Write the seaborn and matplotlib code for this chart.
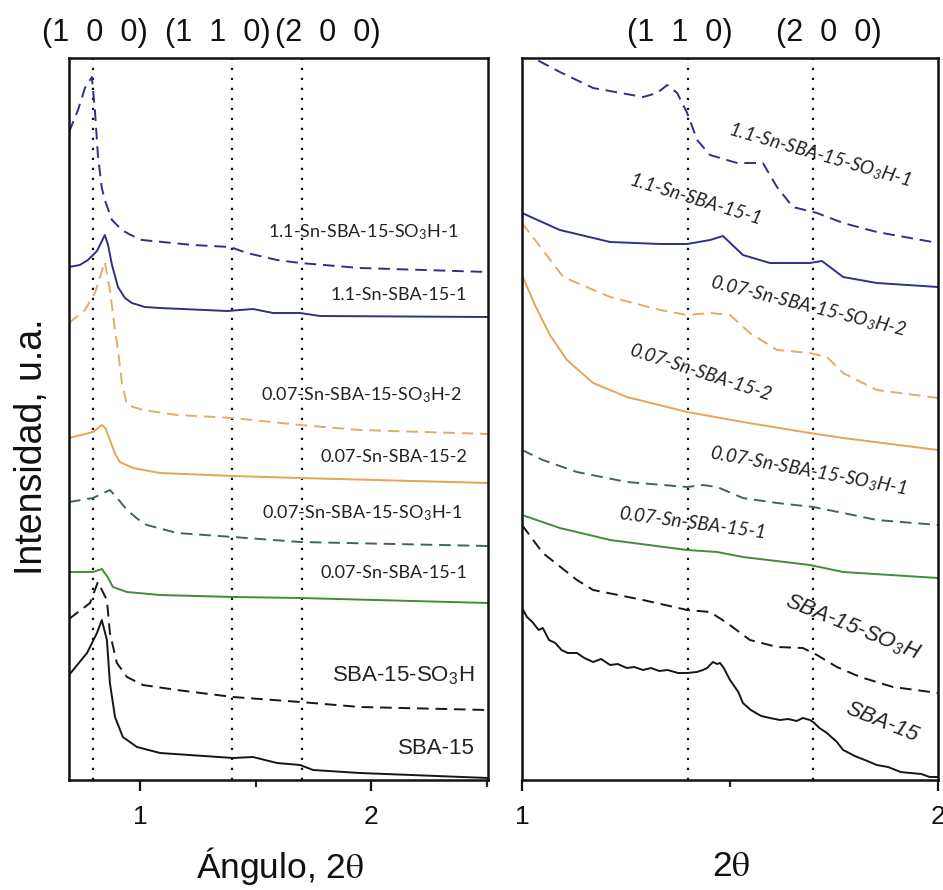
import matplotlib
matplotlib.use("Agg")
import matplotlib.pyplot as plt
import seaborn as sns
import pandas as pd
import numpy as np

# ---------------- data (2theta, intensity a.u.) ----------------
# Left panel
L_sn11_so3h_x = [0.693, 0.732, 0.762, 0.792, 0.805, 0.818, 0.835, 0.848, 0.879, 0.922, 0.960, 1.009, 1.229, 1.390, 1.463, 1.593, 1.693, 1.952, 2.506]
L_sn11_so3h_y = [648, 670, 692, 703, 670, 625, 592, 580, 560, 550, 545, 540, 535, 533, 527, 520, 517, 512, 508]
L_sn11_x = [0.693, 0.740, 0.775, 0.814, 0.827, 0.848, 0.862, 0.879, 0.905, 0.935, 0.965, 1.022, 1.087, 1.377, 1.489, 1.576, 1.693, 1.779, 2.506]
L_sn11_y = [513, 515, 520, 529, 535, 545, 535, 515, 493, 482, 477, 473, 472, 469, 471, 467, 467, 464, 463]
L_sn007_so3h2_x = [0.693, 0.762, 0.805, 0.848, 0.870, 0.892, 0.905, 0.922, 0.944, 1.013, 1.160, 1.403, 1.693, 1.952, 2.506]
L_sn007_so3h2_y = [457, 470, 487, 518, 490, 450, 430, 397, 375, 370, 365, 362, 355, 350, 346]
L_sn007_2_x = [0.693, 0.797, 0.835, 0.850, 0.870, 0.893, 0.913, 0.970, 1.087, 1.403, 1.693, 2.506]
L_sn007_2_y = [342, 348, 355, 352, 340, 326, 318, 312, 307, 304, 302, 297]
L_sn007_so3h1_x = [0.693, 0.797, 0.870, 0.905, 0.944, 0.990, 1.030, 1.160, 1.403, 1.693, 2.506]
L_sn007_so3h1_y = [278, 282, 290, 281, 270, 261, 255, 247, 243, 238, 234]
L_sn007_1_x = [0.693, 0.797, 0.835, 0.860, 0.883, 0.944, 1.087, 1.403, 1.693, 2.506]
L_sn007_1_y = [208, 208, 211, 203, 193, 188, 185, 183, 182, 177]
L_sba_so3h_x = [0.693, 0.784, 0.818, 0.857, 0.870, 0.900, 0.944, 1.013, 1.160, 1.403, 1.693, 1.952, 2.506]
L_sba_so3h_y = [161, 177, 198, 180, 147, 117, 103, 95, 90, 83, 78, 73, 70]
L_sba_x = [0.693, 0.771, 0.814, 0.835, 0.857, 0.870, 0.892, 0.926, 0.987, 1.087, 1.403, 1.489, 1.593, 1.693, 1.749, 1.952, 2.506]
L_sba_y = [105, 127, 147, 160, 140, 97, 63, 43, 33, 27, 22, 23, 17, 15, 10, 7, 2]

# Right panel
R_sn11_so3h_x = [1.000, 1.091, 1.171, 1.291, 1.325, 1.349, 1.373, 1.397, 1.421, 1.452, 1.517, 1.579, 1.613, 1.651, 1.709, 1.772, 1.853, 2.000]
R_sn11_so3h_y = [728, 708, 692, 683, 687, 695, 687, 667, 640, 625, 617, 617, 593, 573, 567, 557, 548, 537]
R_sn11_x = [1.000, 1.091, 1.212, 1.332, 1.397, 1.452, 1.483, 1.531, 1.596, 1.692, 1.721, 1.772, 1.853, 2.000]
R_sn11_y = [567, 550, 538, 536, 536, 540, 544, 525, 517, 517, 519, 503, 497, 493]
R_sn007_so3h2_x = [1.000, 1.050, 1.099, 1.212, 1.332, 1.397, 1.452, 1.500, 1.548, 1.613, 1.692, 1.733, 1.772, 1.853, 2.000]
R_sn007_so3h2_y = [557, 530, 503, 483, 470, 465, 467, 465, 447, 430, 427, 423, 407, 390, 382]
R_sn007_2_x = [1.000, 1.031, 1.067, 1.108, 1.171, 1.252, 1.397, 1.531, 1.692, 1.772, 2.000]
R_sn007_2_y = [505, 475, 445, 420, 397, 383, 368, 358, 347, 342, 330]
R_sn007_so3h1_x = [1.000, 1.050, 1.132, 1.252, 1.397, 1.435, 1.469, 1.531, 1.613, 1.700, 1.772, 1.853, 2.000]
R_sn007_so3h1_y = [330, 320, 308, 298, 293, 295, 293, 282, 277, 273, 267, 260, 255]
R_sn007_1_x = [1.000, 1.091, 1.212, 1.397, 1.469, 1.531, 1.692, 1.772, 2.000]
R_sn007_1_y = [265, 252, 240, 230, 228, 223, 215, 208, 202]
R_sba_so3h_x = [1.000, 1.050, 1.132, 1.171, 1.291, 1.397, 1.452, 1.493, 1.548, 1.613, 1.675, 1.709, 1.757, 1.813, 1.892, 2.000]
R_sba_so3h_y = [255, 227, 200, 190, 180, 170, 168, 157, 140, 133, 132, 125, 113, 103, 93, 87]
R_sba_x = [1.000, 1.012, 1.025, 1.040, 1.050, 1.065, 1.080, 1.095, 1.110, 1.132, 1.150, 1.171, 1.190, 1.212, 1.230, 1.252, 1.270, 1.291, 1.310, 1.330, 1.350, 1.375, 1.397, 1.420, 1.435, 1.445, 1.459, 1.469, 1.476, 1.485, 1.500, 1.520, 1.531, 1.550, 1.575, 1.596, 1.620, 1.640, 1.660, 1.675, 1.692, 1.700, 1.715, 1.733, 1.757, 1.772, 1.800, 1.830, 1.853, 1.880, 1.910, 1.933, 1.960, 1.980, 2.000]
R_sba_y = [172, 163, 158, 150, 152, 140, 137, 130, 127, 127, 122, 118, 121, 115, 116, 112, 113, 110, 112, 109, 110, 107, 107, 108, 110, 112, 118, 116, 117, 112, 100, 88, 77, 70, 64, 62, 60, 61, 59, 62, 60, 58, 52, 47, 38, 30, 24, 19, 15, 13, 8, 7, 6, 3, 3]

series_names = ["1.1-Sn-SBA-15-SO3H-1", "1.1-Sn-SBA-15-1", "0.07-Sn-SBA-15-SO3H-2", "0.07-Sn-SBA-15-2",
                "0.07-Sn-SBA-15-SO3H-1", "0.07-Sn-SBA-15-1", "SBA-15-SO3H", "SBA-15"]
left_data = [(L_sn11_so3h_x, L_sn11_so3h_y), (L_sn11_x, L_sn11_y), (L_sn007_so3h2_x, L_sn007_so3h2_y),
             (L_sn007_2_x, L_sn007_2_y), (L_sn007_so3h1_x, L_sn007_so3h1_y), (L_sn007_1_x, L_sn007_1_y),
             (L_sba_so3h_x, L_sba_so3h_y), (L_sba_x, L_sba_y)]
right_data = [(R_sn11_so3h_x, R_sn11_so3h_y), (R_sn11_x, R_sn11_y), (R_sn007_so3h2_x, R_sn007_so3h2_y),
              (R_sn007_2_x, R_sn007_2_y), (R_sn007_so3h1_x, R_sn007_so3h1_y), (R_sn007_1_x, R_sn007_1_y),
              (R_sba_so3h_x, R_sba_so3h_y), (R_sba_x, R_sba_y)]

label_texts = ["1.1-Sn-SBA-15-SO$_\\mathregular{3}$H-1", "1.1-Sn-SBA-15-1",
               "0.07-Sn-SBA-15-SO$_\\mathregular{3}$H-2", "0.07-Sn-SBA-15-2",
               "0.07-Sn-SBA-15-SO$_\\mathregular{3}$H-1", "0.07-Sn-SBA-15-1",
               "SBA-15-SO$_\\mathregular{3}$H", "SBA-15"]

left_ref_lines = [0.797, 1.40, 1.70]
right_ref_lines = [1.40, 1.70]

# ---------------- styles ----------------
colors = ["#2e3184", "#2e3184", "#dcae6a", "#e6a552", "#3f6a47", "#3f8c3a", "#161616", "#161616"]
dashed = [True, False, True, False, True, False, True, False]

sns.set_theme(style="white")
plt.rcParams["mathtext.fontset"] = "stix"
plt.rcParams["font.family"] = ["Liberation Sans", "DejaVu Sans"]

W, H = 943, 890
fig = plt.figure(figsize=(W / 100, H / 100), dpi=100)
axL = fig.add_axes([69 / W, 1 - 780 / H, (488 - 69) / W, (780 - 58) / H])
axR = fig.add_axes([522 / W, 1 - 780 / H, (938 - 522) / W, (780 - 58) / H])

for ax, data in ((axL, left_data), (axR, right_data)):
    for name, (xs, ys), col, ds in zip(series_names, data, colors, dashed):
        df = pd.DataFrame({"x": xs, "y": ys})
        sns.lineplot(data=df, x="x", y="y", ax=ax, color=col, sort=False, estimator=None,
                     linewidth=1.4, linestyle=(0, (6, 3.5)) if ds else "-")

for x in left_ref_lines:
    axL.axvline(x, color="#111111", linestyle=(0, (1, 3.5)), linewidth=1.6, zorder=0)
for x in right_ref_lines:
    axR.axvline(x, color="#111111", linestyle=(0, (1, 3.5)), linewidth=1.6, zorder=0)

axL.set_xlim(0.693, 2.506)
axR.set_xlim(1.0, 2.0)
for ax in (axL, axR):
    ax.set_ylim(0, 722)
    ax.set_xlabel("")
    ax.set_ylabel("")
    ax.set_yticks([])
    ax.set_xticks([1, 2])
    ax.set_xticks([1.5, 2.5] if ax is axL else [1.5], minor=True)
    ax.set_xticklabels(["1", "2"])
    ax.tick_params(axis="x", which="major", direction="out", length=8, width=1.6,
                   labelsize=19, pad=10, colors="#111111", bottom=True)
    ax.tick_params(axis="x", which="minor", direction="out", length=5, width=1.6, bottom=True)
    for sp in ax.spines.values():
        sp.set_visible(True)
        sp.set_color("#111111")
        sp.set_linewidth(1.8)

def fpos(px, py):
    return px / W, 1 - py / H

# left panel labels (upright)
left_pos = [(458, 232), (467, 295), (462, 395), (467, 457), (463, 513), (467, 573), (475, 675), (475, 748)]
for i, (txt, (px, py)) in enumerate(zip(label_texts, left_pos)):
    if i < 6:
        fig.text(*fpos(px, py), txt, ha="right", va="center", fontsize=13, color="#222222",
                 family=["Lato", "DejaVu Sans"])
    else:
        fig.text(*fpos(px, py), txt, ha="right", va="center", fontsize=16, color="#222222",
                 family=["Liberation Sans", "DejaVu Sans"])

# right panel labels (rotated, italic)
right_pos = [(820, 155, -16), (695, 200, -17), (808, 306, -14), (700, 373, -18),
             (808, 471, -10.5), (692, 523, -7.6), (853, 627, -22), (882, 722, -22)]
for i, (txt, (px, py, rot)) in enumerate(zip(label_texts, right_pos)):
    fam = ["Lato", "DejaVu Sans"] if i < 6 else ["Liberation Sans", "DejaVu Sans"]
    fs = 13.5 if i < 6 else 16
    fig.text(*fpos(px, py), txt, ha="center", va="center", rotation=rot, rotation_mode="anchor",
             fontsize=fs, style="italic", color="#222222", family=fam)

# Miller indices
for txt, px in (("(1  0  0)", 95), ("(1  1  0)", 218), ("(2  0  0)", 328), ("(1  1  0)", 680), ("(2  0  0)", 829)):
    fig.text(*fpos(px, 33), txt, ha="center", va="center", fontsize=22, color="#111111")

fig.text(*fpos(280, 866), "Ángulo, 2$\\mathrm{\\theta}$", ha="center", va="center", fontsize=25.5, color="#111111")
fig.text(*fpos(731, 866), "2$\\mathrm{\\theta}$", ha="center", va="center", fontsize=25.5, color="#111111")
fig.text(*fpos(32, 447), "Intensidad, u.a.", ha="center", va="center", rotation=90, fontsize=27, color="#111111")

fig.savefig("out.png", dpi=100, facecolor="white")
